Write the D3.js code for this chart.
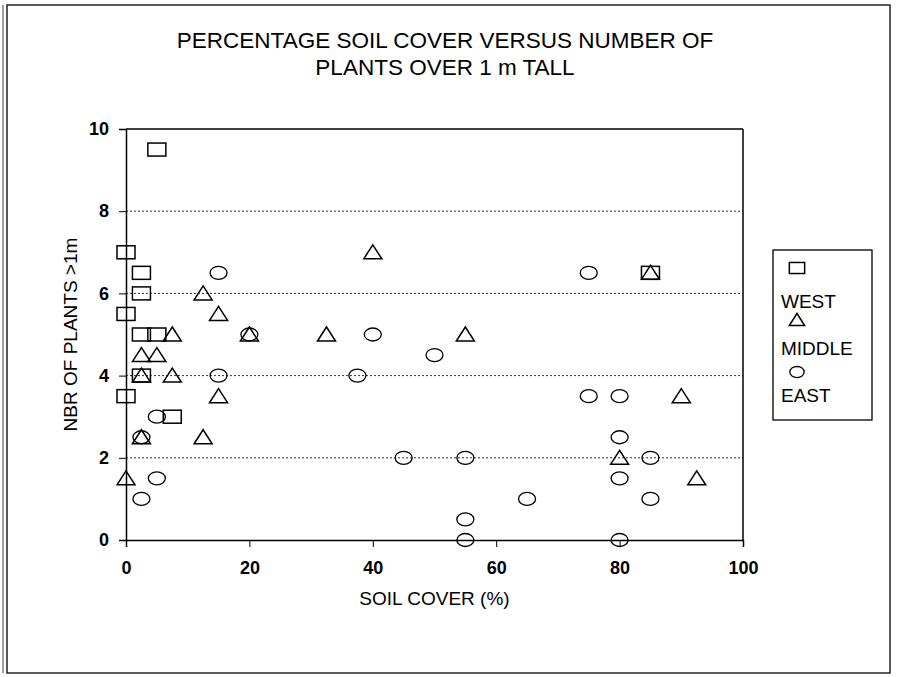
<!DOCTYPE html>
<html>
<head>
<meta charset="utf-8">
<script src="https://cdn.jsdelivr.net/npm/d3@7"></script>
<style>
  body { margin: 0; background: #fff; }
  text { font-family: "Liberation Sans", Arial, sans-serif; fill: #000; }
</style>
</head>
<body>
<div id="chart"></div>
<script>
// soil cover (%) vs number of plants over 1 m, per site
var west_x = [5, 0, 2.5, 2.5, 0, 2.5, 5, 2.5, 0, 7.5, 85];
var west_y = [9.5, 7, 6.5, 6, 5.5, 5, 5, 4, 3.5, 3, 6.5];

var middle_x = [0, 2.5, 2.5, 2.5, 5, 7.5, 7.5, 12.5, 15, 15, 12.5, 20, 32.5, 40, 55, 85, 90, 80, 92.5];
var middle_y = [1.5, 2.5, 4, 4.5, 4.5, 5, 4, 6, 5.5, 3.5, 2.5, 5, 5, 7, 5, 6.5, 3.5, 2, 1.5];

var east_x = [2.5, 5, 5, 2.5, 15, 15, 20, 40, 37.5, 50, 45, 55, 55, 55, 65, 75, 75, 80, 80, 85, 80, 85, 80];
var east_y = [1, 1.5, 3, 2.5, 4, 6.5, 5, 5, 4, 4.5, 2, 2, 0.5, 0, 1, 6.5, 3.5, 3.5, 2.5, 2, 1.5, 1, 0];

var series_names = ["WEST", "MIDDLE", "EAST"];
var x_ticks = [0, 20, 40, 60, 80, 100];
var y_ticks = [0, 2, 4, 6, 8, 10];

const width = 899, height = 677;
const plot_left = 126, plot_right = 743, plot_top = 129, plot_bottom = 540;

var svg = d3.select("#chart").append("svg")
  .attr("width", width)
  .attr("height", height);

// outer frame (double line on the left like the scan)
svg.append("rect")
  .attr("x", 7).attr("y", 5)
  .attr("width", 883).attr("height", 668)
  .style("fill", "none").style("stroke", "#222").style("stroke-width", 1.5);
svg.append("line")
  .attr("x1", 3).attr("x2", 3).attr("y1", 5).attr("y2", 673)
  .style("stroke", "#444").style("stroke-width", 1);

var x = d3.scaleLinear().domain([0, 100]).range([plot_left, plot_right]);
var y = d3.scaleLinear().domain([0, 10]).range([plot_bottom, plot_top]);

// dotted gridlines (the top one is the solid plot border)
svg.append("g").selectAll("line")
  .data(y_ticks.filter(function(d) { return d > 0; }))
  .join("line")
  .attr("x1", plot_left).attr("x2", plot_right)
  .attr("y1", function(d) { return y(d); })
  .attr("y2", function(d) { return y(d); })
  .style("stroke", function(d) { return d === 10 ? "#000" : "#333"; })
  .style("stroke-width", function(d) { return d === 10 ? 1.3 : 1; })
  .style("stroke-dasharray", function(d) { return d === 10 ? null : "2,2"; });

// right edge of the plot area
svg.append("line")
  .attr("x1", plot_right).attr("x2", plot_right)
  .attr("y1", plot_top).attr("y2", plot_bottom)
  .style("stroke", "#000").style("stroke-width", 1.5);

// axes
var xAxis = d3.axisBottom(x).tickValues(x_ticks).tickSize(7).tickPadding(14);
var yAxis = d3.axisLeft(y).tickValues(y_ticks).tickSize(7).tickPadding(10);

var gx = svg.append("g").attr("transform", "translate(0," + plot_bottom + ")").call(xAxis);
var gy = svg.append("g").attr("transform", "translate(" + plot_left + ",0)").call(yAxis);

[gx, gy].forEach(function(g) {
  g.select(".domain").style("stroke", "#000").style("stroke-width", 1.5);
  g.selectAll(".tick line").style("stroke", "#000").style("stroke-width", 1);
  g.selectAll(".tick text")
    .style("font-family", "'Liberation Sans', Arial, sans-serif")
    .style("font-size", "18px").style("font-weight", "bold").style("fill", "#000");
});

// titles
var title = svg.append("text")
  .attr("x", 445).attr("y", 48)
  .attr("text-anchor", "middle")
  .style("font-size", "22.5px");
title.append("tspan").attr("x", 445).attr("dy", 0).text("PERCENTAGE SOIL COVER VERSUS NUMBER OF");
title.append("tspan").attr("x", 445).attr("dy", 27).text("PLANTS OVER 1 m TALL");

svg.append("text")
  .attr("x", (plot_left + plot_right) / 2).attr("y", 605)
  .attr("text-anchor", "middle")
  .style("font-size", "19px")
  .text("SOIL COVER (%)");

svg.append("text")
  .attr("transform", "translate(77," + ((plot_top + plot_bottom) / 2) + ") rotate(-90)")
  .attr("text-anchor", "middle")
  .style("font-size", "19px")
  .text("NBR OF PLANTS >1m");

// marker shapes
function drawMarker(g, kind, cx, cy, sc) {
  var w = 9 * sc, h = 6.5 * sc;
  if (kind === "WEST") {
    g.append("rect")
      .attr("x", cx - w).attr("y", cy - h)
      .attr("width", 2 * w).attr("height", 2 * h)
      .style("fill", "none").style("stroke", "#000").style("stroke-width", 1.5);
  } else if (kind === "MIDDLE") {
    g.append("path")
      .attr("d", "M" + (cx - w) + "," + (cy + h) + "L" + cx + "," + (cy - h - 1) + "L" + (cx + w) + "," + (cy + h) + "Z")
      .style("fill", "none").style("stroke", "#000").style("stroke-width", 1.5);
  } else {
    g.append("ellipse")
      .attr("cx", cx).attr("cy", cy)
      .attr("rx", w - 0.5).attr("ry", h)
      .style("fill", "none").style("stroke", "#000").style("stroke-width", 1.3);
  }
}

var points = svg.append("g");
var all_x = [west_x, middle_x, east_x];
var all_y = [west_y, middle_y, east_y];
for (var s = 0; s < series_names.length; s++) {
  for (var i = 0; i < all_x[s].length; i++) {
    drawMarker(points, series_names[s], x(all_x[s][i]), y(all_y[s][i]), 1);
  }
}

// legend
var legend = svg.append("g");
legend.append("rect")
  .attr("x", 773).attr("y", 250)
  .attr("width", 99).attr("height", 170)
  .style("fill", "#fff").style("stroke", "#000").style("stroke-width", 1.3);

for (var k = 0; k < series_names.length; k++) {
  drawMarker(legend, series_names[k], 797, 268 + k * 52, 0.85);
  legend.append("text")
    .attr("x", 781).attr("y", 308 + k * 47)
    .style("font-size", "19px")
    .text(series_names[k]);
}
</script>
</body>
</html>
